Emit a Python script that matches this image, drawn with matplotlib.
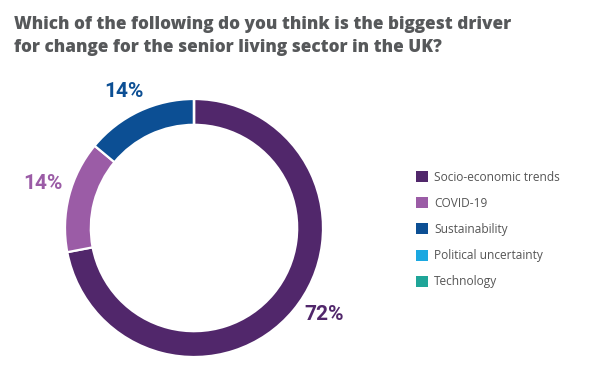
import numpy as np
import matplotlib
matplotlib.use("Agg")
import matplotlib.pyplot as plt

# Data
categories = ["Socio-economic trends", "COVID-19", "Sustainability",
              "Political uncertainty", "Technology"]
values = [72, 14, 14, 0, 0]
colors = ["#51276B", "#9B5CA6", "#0C4F94", "#1BA8E1", "#1FA598"]
title_lines = ["Which of the following do you think is the biggest driver",
               "for change for the senior living sector in the UK?"]

W, H = 598, 381
fig = plt.figure(figsize=(W / 100, H / 100), dpi=100)

cx, cy, R = 194, 228, 129
ax = fig.add_axes([(cx - R) / W, (H - cy - R) / H, 2 * R / W, 2 * R / H])
wedges, _ = ax.pie(values, colors=colors, startangle=90, counterclock=False,
                   radius=1.0,
                   wedgeprops=dict(width=0.2, edgecolor="white", linewidth=1.6))
ax.set_xlim(-1, 1)
ax.set_ylim(-1, 1)
ax.set_aspect("equal")
ax.axis("off")

# percentage labels
label_r = [1.21, 1.22, 1.19]
label_shift = [6, -2, 2]
k = 0
for w, v, c in zip(wedges, values, colors):
    if v <= 0:
        continue
    mid = np.deg2rad((w.theta1 + w.theta2) / 2 + label_shift[k])
    r = label_r[k]
    ax.text(r * np.cos(mid), r * np.sin(mid), f"{v}%", color=c,
            fontsize=15, fontweight="bold", family="Roboto",
            ha="center", va="center", clip_on=False)
    k += 1

baselines = [29, 52]
for line, yb in zip(title_lines, baselines):
    fig.text(14 / W, 1 - yb / H, line, ha="left", va="baseline", fontsize=12.3,
             fontweight=800, family="Open Sans", color="#56585A")

leg = fig.legend(wedges, categories, loc="upper left",
                 bbox_to_anchor=(405 / W, 1 - 160 / H), frameon=False,
                 prop=dict(family="Open Sans", size=8.6),
                 handlelength=1.05, handleheight=1.05, handletextpad=0.5,
                 labelspacing=1.1, labelcolor="#555555")
for h in leg.legend_handles:
    h.set_edgecolor("none")

fig.savefig("out.png", dpi=100, facecolor="white")
